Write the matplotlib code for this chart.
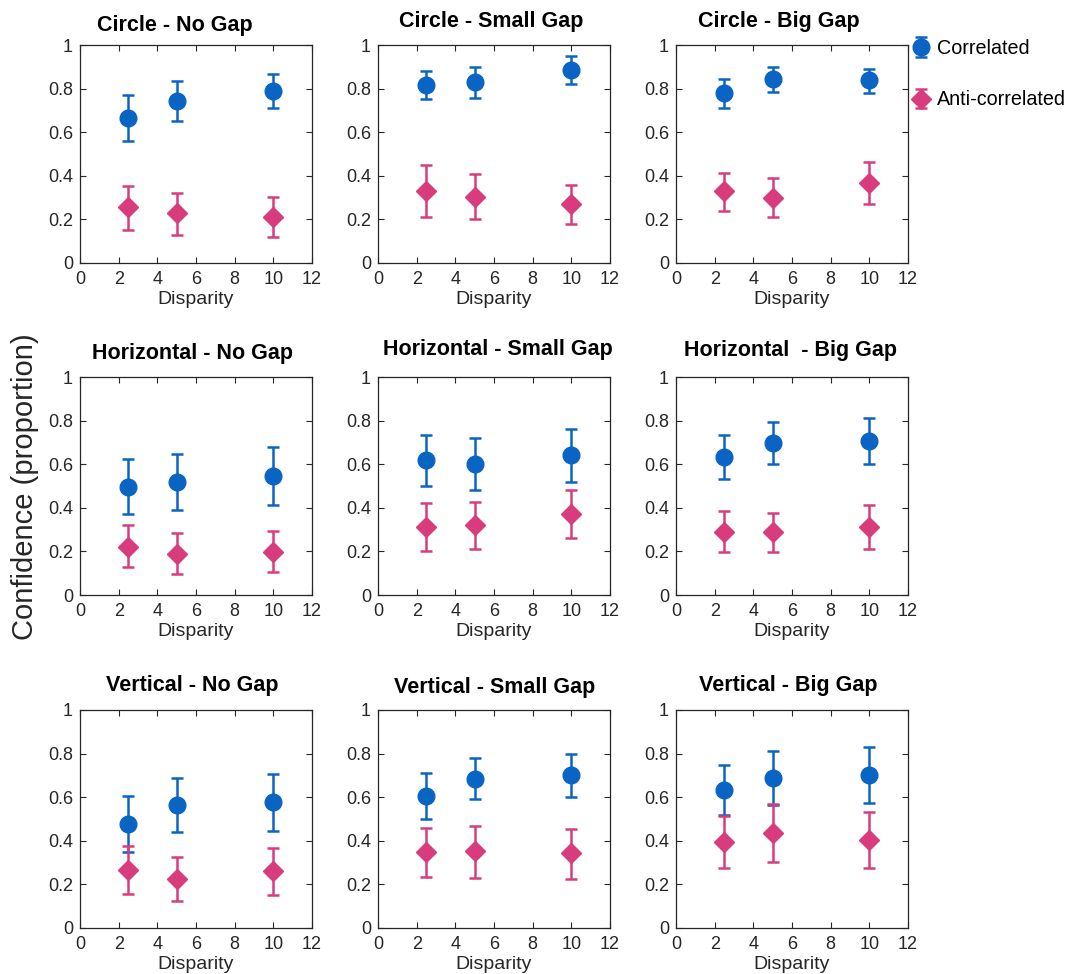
import matplotlib
matplotlib.use("Agg")
import matplotlib.pyplot as plt
import numpy as np

plt.rcParams['font.family'] = ['Liberation Sans', 'DejaVu Sans']

disparity = [2.5, 5, 10]
titles = ["Circle - No Gap", "Circle - Small Gap", "Circle - Big Gap",
          "Horizontal - No Gap", "Horizontal - Small Gap", "Horizontal  - Big Gap",
          "Vertical - No Gap", "Vertical - Small Gap", "Vertical - Big Gap"]

corr_mean = [[0.665, 0.745, 0.790], [0.815, 0.830, 0.885], [0.778, 0.843, 0.838],
             [0.497, 0.520, 0.547], [0.617, 0.602, 0.640], [0.632, 0.697, 0.707],
             [0.478, 0.565, 0.577], [0.607, 0.683, 0.700], [0.632, 0.687, 0.703]]
corr_lo = [[0.560, 0.650, 0.710], [0.750, 0.755, 0.820], [0.710, 0.785, 0.780],
           [0.370, 0.390, 0.415], [0.500, 0.480, 0.518], [0.530, 0.600, 0.602],
           [0.350, 0.440, 0.445], [0.500, 0.590, 0.600], [0.520, 0.565, 0.575]]
corr_hi = [[0.770, 0.835, 0.865], [0.880, 0.900, 0.950], [0.845, 0.898, 0.892],
           [0.625, 0.645, 0.680], [0.735, 0.722, 0.760], [0.735, 0.795, 0.812],
           [0.607, 0.688, 0.708], [0.713, 0.778, 0.800], [0.748, 0.810, 0.832]]

anti_mean = [[0.255, 0.228, 0.210], [0.330, 0.303, 0.270], [0.328, 0.300, 0.367],
             [0.222, 0.190, 0.198], [0.312, 0.320, 0.370], [0.290, 0.287, 0.313],
             [0.268, 0.225, 0.260], [0.347, 0.352, 0.343], [0.393, 0.437, 0.405]]
anti_lo = [[0.150, 0.130, 0.120], [0.210, 0.200, 0.178], [0.240, 0.212, 0.272],
           [0.128, 0.095, 0.105], [0.202, 0.212, 0.260], [0.198, 0.195, 0.212],
           [0.155, 0.125, 0.152], [0.232, 0.230, 0.225], [0.275, 0.305, 0.275]]
anti_hi = [[0.355, 0.322, 0.302], [0.448, 0.410, 0.360], [0.415, 0.390, 0.462],
           [0.320, 0.285, 0.292], [0.420, 0.428, 0.480], [0.385, 0.378, 0.412],
           [0.378, 0.325, 0.367], [0.458, 0.470, 0.455], [0.515, 0.568, 0.530]]

xticks = [0, 2, 4, 6, 8, 10, 12]
yticks = [0, 0.2, 0.4, 0.6, 0.8, 1]
ytick_labels = ["0", "0.2", "0.4", "0.6", "0.8", "1"]

blue = '#0A64C4'
pink = '#D93C7C'
tc = '#262626'

W, H = 1070, 974
fig = plt.figure(figsize=(W / 100, H / 100), dpi=100)

col_x = [80, 378, 676]
row_top = [45, 377, 710]
aw, ah = 232, 218
# title centre positions (pixels) and vertical centre (pixels)
title_cx = [175, 491, 779, 193, 498, 791, 192, 495, 788]
title_cy = [25, 22, 22, 353, 350, 351, 686, 688, 686]

handles = None
for i in range(9):
    r, c = divmod(i, 3)
    left = col_x[c] / W
    bottom = 1 - (row_top[r] + ah) / H
    ax = fig.add_axes([left, bottom, aw / W, ah / H])
    m = np.array(corr_mean[i])
    err_c = [m - np.array(corr_lo[i]), np.array(corr_hi[i]) - m]
    h1 = ax.errorbar(disparity, m, yerr=err_c, fmt='o', color=blue, ecolor=blue,
                     markersize=12, elinewidth=1.8, capsize=4, capthick=1.8,
                     label='Correlated')
    a = np.array(anti_mean[i])
    err_a = [a - np.array(anti_lo[i]), np.array(anti_hi[i]) - a]
    h2 = ax.errorbar(disparity, a, yerr=err_a, fmt='D', color=pink, ecolor=pink,
                     markersize=10.5, elinewidth=1.8, capsize=4, capthick=1.8,
                     label='Anti-correlated')
    ax.set_xlim(0, 12)
    ax.set_ylim(0, 1)
    ax.set_xticks(xticks)
    ax.set_yticks(yticks)
    ax.set_yticklabels(ytick_labels)
    ax.tick_params(direction='in', top=True, right=True, labelsize=13,
                   colors=tc, length=4, width=0.8)
    ax.tick_params(axis='x', pad=6)
    ax.tick_params(axis='y', pad=5)
    for sp in ax.spines.values():
        sp.set_color(tc)
        sp.set_linewidth(0.9)
    ax.set_xlabel("Disparity", fontsize=14, color=tc, labelpad=2)
    fig.text(title_cx[i] / W, 1 - title_cy[i] / H, titles[i], fontsize=15.5,
             fontweight='bold', color='black', ha='center', va='center')
    if i == 2:
        handles = [h1, h2]

fig.legend(handles=handles, labels=['Correlated', 'Anti-correlated'],
           loc='upper left', bbox_to_anchor=(902 / W, 1 - 31 / H),
           frameon=False, fontsize=14.2, labelspacing=1.65, handletextpad=0.2,
           handlelength=1.15, borderaxespad=0)

fig.text(25 / W, 1 - 487 / H, "Confidence (proportion)", rotation=90,
         fontsize=21, color=tc, ha='center', va='center')

fig.savefig("out.png", dpi=100, facecolor='white')
